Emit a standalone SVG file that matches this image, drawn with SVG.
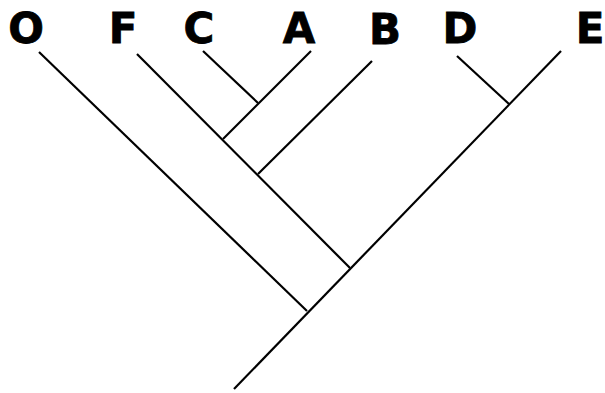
<svg xmlns="http://www.w3.org/2000/svg" width="605" height="393" viewBox="0 0 605 393">
<style>
.lbl{font-family:"DejaVu Sans","Liberation Sans",Arial,sans-serif;font-weight:bold;font-size:42px;fill:#000;stroke:#000;stroke-width:0.8;text-anchor:middle}
.br{stroke:#000;stroke-width:2.2;fill:none;stroke-linecap:butt}
</style>
<rect width="605" height="393" fill="#fff"/>
<g id="connectors">
<line class="br" x1="234" y1="389" x2="561" y2="51"/>
<line class="br" x1="39" y1="52" x2="307" y2="311"/>
<line class="br" x1="137" y1="54" x2="350" y2="268"/>
<line class="br" x1="203" y1="51" x2="258" y2="103"/>
<line class="br" x1="311" y1="51" x2="223" y2="139"/>
<line class="br" x1="372" y1="61" x2="258" y2="174"/>
<line class="br" x1="457" y1="56" x2="509" y2="104"/>
</g>
<g id="node-O"><text class="lbl" x="26" y="43">O</text></g>
<g id="node-F"><text class="lbl" x="123" y="43">F</text></g>
<g id="node-C"><text class="lbl" x="199" y="43">C</text></g>
<g id="node-A"><text class="lbl" x="299" y="43">A</text></g>
<g id="node-B"><text class="lbl" x="385" y="44">B</text></g>
<g id="node-D"><text class="lbl" x="460" y="43">D</text></g>
<g id="node-E"><text class="lbl" x="590" y="43">E</text></g>
</svg>
